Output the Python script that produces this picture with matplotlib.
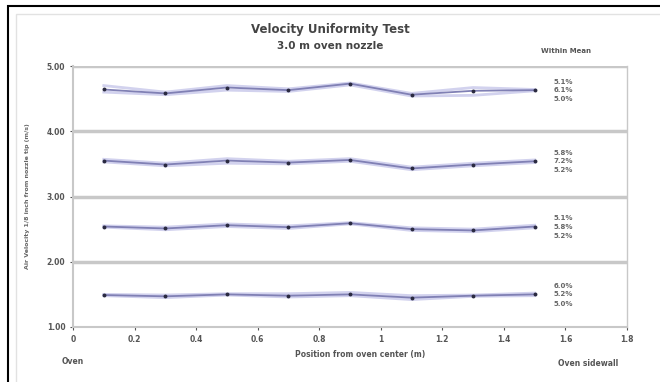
import matplotlib
matplotlib.use("Agg")
import matplotlib.pyplot as plt
from matplotlib.patches import Rectangle

positions = [0.1, 0.3, 0.5, 0.7, 0.9, 1.1, 1.3, 1.5]

mean_1 = [4.64, 4.58, 4.67, 4.63, 4.73, 4.56, 4.62, 4.63]
max_1 = [4.70, 4.60, 4.70, 4.65, 4.74, 4.58, 4.67, 4.64]
min_1 = [4.60, 4.56, 4.63, 4.61, 4.71, 4.54, 4.55, 4.62]

mean_2 = [3.55, 3.49, 3.55, 3.52, 3.56, 3.43, 3.49, 3.54]
max_2 = [3.57, 3.51, 3.58, 3.54, 3.58, 3.45, 3.51, 3.56]
min_2 = [3.53, 3.47, 3.51, 3.50, 3.54, 3.41, 3.47, 3.52]

mean_3 = [2.54, 2.51, 2.56, 2.53, 2.59, 2.50, 2.48, 2.54]
max_3 = [2.55, 2.53, 2.58, 2.55, 2.60, 2.52, 2.50, 2.56]
min_3 = [2.53, 2.49, 2.54, 2.51, 2.58, 2.48, 2.46, 2.52]

mean_4 = [1.49, 1.47, 1.50, 1.48, 1.50, 1.45, 1.48, 1.50]
max_4 = [1.50, 1.49, 1.51, 1.51, 1.53, 1.48, 1.49, 1.52]
min_4 = [1.48, 1.45, 1.49, 1.46, 1.48, 1.42, 1.47, 1.48]

pct_labels = [
    ["5.1%", "6.1%", "5.0%"],
    ["5.8%", "7.2%", "5.2%"],
    ["5.1%", "5.8%", "5.2%"],
    ["6.0%", "5.2%", "5.0%"],
]

y_ticks = [1.00, 2.00, 3.00, 4.00, 5.00]
x_ticks = [0, 0.2, 0.4, 0.6, 0.8, 1, 1.2, 1.4, 1.6, 1.8]
x_tick_labels = ["0", "0.2", "0.4", "0.6", "0.8", "1", "1.2", "1.4", "1.6", "1.8"]

fig = plt.figure(figsize=(6.6, 3.82), dpi=100)
fig.patch.set_facecolor("white")
ax = fig.add_axes([73/660, 1-327/382, (627-73)/660, (327-66)/382])

grid_c = "#c8c8c8"
for yv in y_ticks[1:]:
    ax.axhline(yv, color=grid_c, lw=2.5, zorder=1)

groups = [(mean_1, max_1, min_1), (mean_2, max_2, min_2),
          (mean_3, max_3, min_3), (mean_4, max_4, min_4)]
for gi, (mn, mx, mi) in enumerate(groups):
    ax.plot(positions, mx, color="#d2d2ee", lw=2.0, zorder=2)
    ax.plot(positions, mi, color="#d2d2ee", lw=2.0, zorder=2)
    ax.plot(positions, mn, color="#8080b4", lw=1.3, zorder=3)
    ax.plot(positions, mn, ls="none", marker="o", ms=2.8, color="#2a2a40",
            markeredgewidth=0, zorder=4)
    base = mn[-1]
    for k, off in enumerate([0.13, 0.0, -0.14]):
        ax.text(1.56, base + off, pct_labels[gi][k], fontsize=5, color="#666666",
                fontweight="bold", va="center", ha="left")

ax.set_xlim(0, 1.8)
ax.set_ylim(1.0, 5.0)
ax.set_yticks(y_ticks)
ax.set_yticklabels([f"{v:.2f}" for v in y_ticks])
ax.set_xticks(x_ticks)
ax.set_xticklabels(x_tick_labels)
ax.tick_params(axis="both", labelsize=5.5, colors="#555555", length=2, width=0.8)
for lab in ax.get_xticklabels() + ax.get_yticklabels():
    lab.set_fontweight("bold")
ax.spines["top"].set_visible(False)
for s in ["left", "bottom", "right"]:
    ax.spines[s].set_color(grid_c)
    ax.spines[s].set_linewidth(1.5)
ax.spines["right"].set_linewidth(1.0)

ax.set_ylabel("Air Velocity 1/8 inch from nozzle tip (m/s)", fontsize=4.5,
              color="#666666", fontweight="bold", labelpad=12)
fig.text(0.5, 1-30/382, "Velocity Uniformity Test", ha="center", va="center",
         fontsize=8.5, fontweight="bold", color="#444444")
fig.text(0.5, 1-46/382, "3.0 m oven nozzle", ha="center", va="center",
         fontsize=7.5, fontweight="bold", color="#444444")
fig.text(566/660, 1-51/382, "Within Mean", ha="center", va="center",
         fontsize=5, fontweight="bold", color="#555555")
fig.text(360/660, 1-354/382, "Position from oven center (m)", ha="center", va="center",
         fontsize=5.5, fontweight="bold", color="#555555")
fig.text(73/660, 1-361/382, "Oven", ha="center", va="center",
         fontsize=5.5, fontweight="bold", color="#555555")
fig.text(588/660, 1-364/382, "Oven sidewall", ha="center", va="center",
         fontsize=5.5, fontweight="bold", color="#555555")

fig.patches.append(Rectangle((8/660, -0.05), 1.1, 1-6/382+0.05,
                             transform=fig.transFigure, fill=False,
                             edgecolor="black", lw=1.5))
fig.patches.append(Rectangle((16/660, -0.05), 1.1, 1-14/382+0.05,
                             transform=fig.transFigure, fill=False,
                             edgecolor="#e2e2e2", lw=1.0))

fig.savefig("out.png", dpi=100)
